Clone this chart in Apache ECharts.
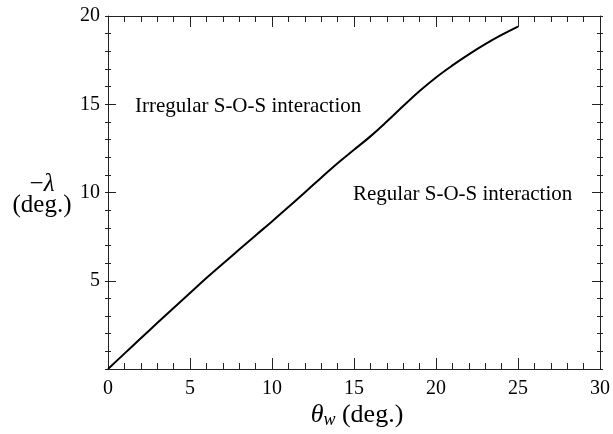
<!DOCTYPE html>
<html>
<head>
<meta charset="utf-8">
<script src="https://cdn.jsdelivr.net/npm/echarts@6/dist/echarts.min.js"></script>
<style>
html,body{margin:0;padding:0;background:#fff;}
#c{width:613px;height:434px;}
</style>
</head>
<body>
<div id="c"></div>
<script>
var thetaW = [0,1,2,3,4,5,6,7,8,9,10,11,12,13,14,15,16,17,18,19,20,21,22,23,24,25];
var lambdaNeg = [0,0.87,1.74,2.6,3.45,4.3,5.15,5.96,6.77,7.57,8.36,9.18,10.0,10.84,11.66,12.42,13.18,14.02,14.9,15.75,16.52,17.2,17.83,18.41,18.93,19.4];
var xTicks = [0,5,10,15,20,25,30];
var yTicks = [5,10,15,20];
var regionLabels = ["Irregular S-O-S interaction", "Regular S-O-S interaction"];

var FONT = "Liberation Serif";
var GRID = {left:108, right:10, top:16, bottom:65};
var GW = 613 - GRID.left - GRID.right;
var GH = 434 - GRID.top - GRID.bottom;
var chart = echarts.init(document.getElementById('c'), null, {renderer:'canvas'});

function axisBase(isY, opts){
  var col = '#222';
  return {
    type:'value',
    min: isY ? 0 : xTicks[0],
    max: isY ? yTicks[yTicks.length-1] : xTicks[xTicks.length-1],
    interval: 5,
    axisLine:{show:opts.line, onZero:false, lineStyle:{color:col, width:1}},
    axisTick:{show:opts.ticks, inside:false, length:11, lineStyle:{color:col, width:1}},
    minorTick:{show:opts.ticks, splitNumber:5, length:6, lineStyle:{color:col, width:1}},
    splitLine:{show:false},
    minorSplitLine:{show:false},
    position: opts.position,
    offset: opts.offset || 0,
    axisLabel:{
      show: !!opts.labels,
      fontFamily: FONT, fontSize: 20, color:'#000', margin: isY ? 8 : 10,
      formatter: function(v){
        if (isY && v === 0) return '';
        return String(v);
      }
    }
  };
}

var data = thetaW.map(function(t,i){ return [t, lambdaNeg[i]]; });

var option = {
  backgroundColor:'#fff',
  animation:false,
  grid:{left:GRID.left, right:GRID.right, top:GRID.top, bottom:GRID.bottom, containLabel:false},
  xAxis:[
    axisBase(false, {position:'bottom', line:true, ticks:false, labels:true}),
    axisBase(false, {position:'top', line:true, ticks:false}),
    axisBase(false, {position:'top', offset:-GH, line:false, ticks:true}),
    axisBase(false, {position:'bottom', offset:-GH, line:false, ticks:true})
  ],
  yAxis:[
    axisBase(true, {position:'left', line:true, ticks:false, labels:true}),
    axisBase(true, {position:'right', line:true, ticks:false}),
    axisBase(true, {position:'right', offset:-GW, line:false, ticks:true}),
    axisBase(true, {position:'left', offset:-GW, line:false, ticks:true})
  ],
  series:[{
    type:'line',
    xAxisIndex:0, yAxisIndex:0,
    data:data,
    showSymbol:false,
    smooth:0.4,
    lineStyle:{color:'#000', width:2}
  }],
  graphic:[
    {type:'text', x:135, y:96, style:{text:regionLabels[0], font:'21px "Liberation Serif"', fill:'#000'}},
    {type:'text', x:353, y:184, style:{text:regionLabels[1], font:'21px "Liberation Serif"', fill:'#000'}},
    {type:'text', x:357, y:415, style:{
      text:'{t|θ}{s|w}{n| (deg.)}',
      align:'center', verticalAlign:'middle',
      rich:{
        t:{fontFamily:FONT, fontStyle:'italic', fontSize:26, color:'#000'},
        s:{fontFamily:FONT, fontStyle:'italic', fontSize:18, color:'#000', padding:[10,0,0,0]},
        n:{fontFamily:FONT, fontSize:26, color:'#000'}
      }
    }},
    {type:'text', x:42, y:195, style:{
      text:'{n|−}{l|λ}\n{n|(deg.)}',
      align:'center', verticalAlign:'middle',
      rich:{
        l:{fontFamily:FONT, fontStyle:'italic', fontSize:25, color:'#000', lineHeight:21},
        n:{fontFamily:FONT, fontSize:25, color:'#000', lineHeight:21}
      }
    }}
  ]
};
chart.setOption(option);
</script>
</body>
</html>
